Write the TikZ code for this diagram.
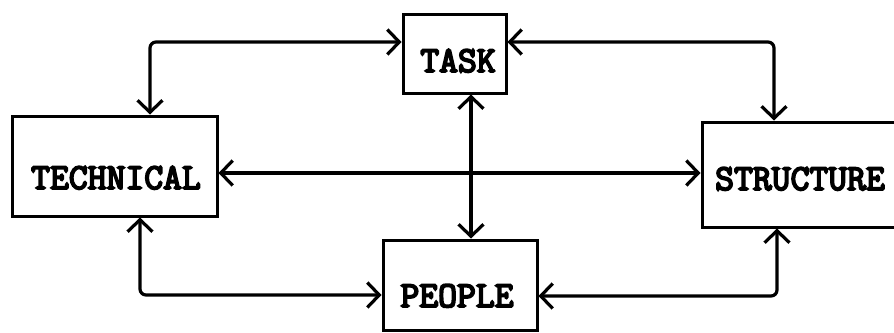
\documentclass[tikz,border=0pt]{standalone}
\usepackage{fontspec}
\newfontfamily\typewriter{Latin Modern Mono}[FakeBold=5]
\usetikzlibrary{arrows.meta,calc}
\tikzset{barb/.tip={Straight Barb[length=12pt,width=25pt,line width=3.2pt]}}
\begin{document}
\begin{tikzpicture}[x=1pt,y=-1pt,
  box/.style={draw,line width=3pt,minimum width=#1,inner sep=0pt},
  word/.style={anchor=base,inner sep=0pt,font=\fontsize{36.6}{36.6}\selectfont\typewriter},
  link/.style={line width=3.2pt,rounded corners=6pt,barb-barb}]
\useasboundingbox (0,0) rectangle (894,332);
\clip (0,0) rectangle (894,332);
% boxes
\node[box=103pt,minimum height=79pt] (task) at (454.5,53.5) {};
\node[box=205pt,minimum height=100pt] (tech) at (114.5,166) {};
\node[box=154pt,minimum height=90pt] (people) at (460,285) {};
\node[box=198pt,minimum height=105pt] (struct) at (801,174.5) {};
% labels
\node[word] (taskt) at (458,72) {TASK};
\node[word] (techt) at (116,189) {TECHNICAL};
\node[word] (peoplet) at (457,307) {PEOPLE};
\node[word] (structt) at (800,190) {STRUCTURE};
% routing points
\coordinate (c1) at (150,42);
\coordinate (c2) at (774,42);
\coordinate (c3) at (0,173);
\coordinate (c4) at (471,0);
\coordinate (c5) at (140,295);
\coordinate (c6) at (777,296);
% connectors
\draw[link] (tech.north -| c1) |- (task.west |- c1);
\draw[link] (task.east |- c2) -| (struct.north -| c2);
\draw[link] (tech.east |- c3) -- (struct.west |- c3);
\draw[link] (task.south -| c4) -- (people.north -| c4);
\draw[link] (tech.south -| c5) |- (people.west |- c5);
\draw[link] (people.east |- c6) -| (struct.south -| c6);
\end{tikzpicture}
\end{document}
